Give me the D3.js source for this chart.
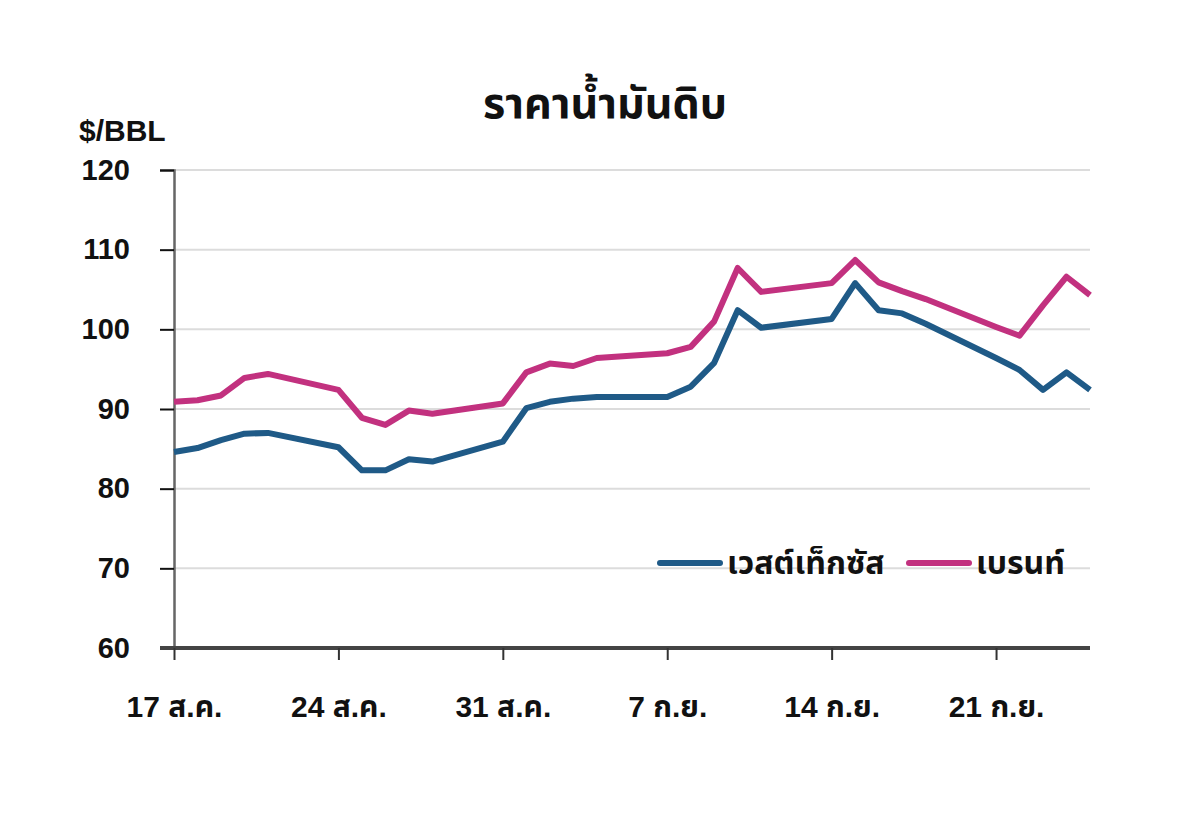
<!DOCTYPE html>
<html>
<head>
<meta charset="utf-8">
<script src="https://cdn.jsdelivr.net/npm/d3@7"></script>
<style>
  body { margin: 0; background: #ffffff; }
  text { font-family: "Liberation Sans", Arial, "Noto Sans Thai", sans-serif; font-weight: bold; fill: #111; }
</style>
</head>
<body>
<div id="chart"></div>
<script>
// trading days (weekends are skipped, so lines run straight across them)
const dates = ["2020-08-17","2020-08-18","2020-08-19","2020-08-20","2020-08-21",
  "2020-08-24","2020-08-25","2020-08-26","2020-08-27","2020-08-28",
  "2020-08-31","2020-09-01","2020-09-02","2020-09-03","2020-09-04",
  "2020-09-07","2020-09-08","2020-09-09","2020-09-10","2020-09-11",
  "2020-09-14","2020-09-15","2020-09-16","2020-09-17","2020-09-18",
  "2020-09-21","2020-09-22","2020-09-23","2020-09-24","2020-09-25"];

const wti = [84.6, 85.1, 86.1, 86.9, 87.0, 85.2, 82.3, 82.3, 83.7, 83.4,
  85.9, 90.1, 90.9, 91.3, 91.5, 91.5, 92.8, 95.8, 102.4, 100.2,
  101.3, 105.8, 102.4, 102.0, 100.7, 96.4, 94.9, 92.4, 94.6, 92.4];

const brent = [90.9, 91.1, 91.7, 93.9, 94.4, 92.4, 88.9, 88.0, 89.8, 89.4,
  90.7, 94.6, 95.7, 95.4, 96.4, 97.0, 97.8, 101.0, 107.7, 104.7,
  105.8, 108.7, 105.9, 104.8, 103.8, 100.3, 99.2, 103.0, 106.6, 104.3];

const seriesNames = ["เวสต์เท็กซัส", "เบรนท์"];
const seriesColors = ["#1f5a87", "#c2317f"];

const tickDates = ["2020-08-17","2020-08-24","2020-08-31","2020-09-07","2020-09-14","2020-09-21"];
const tickLabels = ["17 ส.ค.", "24 ส.ค.", "31 ส.ค.", "7 ก.ย.", "14 ก.ย.", "21 ก.ย."];
const yTicks = [60, 70, 80, 90, 100, 110, 120];

const W = 1200, H = 816;
const margin = {top: 170, right: 110, bottom: 168, left: 174};
const width = W - margin.left - margin.right;
const height = H - margin.top - margin.bottom;

const parse = d3.timeParse("%Y-%m-%d");

const svg = d3.select("#chart").append("svg")
    .attr("width", W)
    .attr("height", H);

const g = svg.append("g")
    .attr("transform", `translate(${margin.left},${margin.top})`);

const x = d3.scaleTime()
    .domain([parse(dates[0]), parse(dates[dates.length - 1])])
    .range([0, width]);

const y = d3.scaleLinear()
    .domain([60, 120])
    .range([height, 0]);

// gridlines
g.append("g")
    .selectAll("line")
    .data(yTicks.filter(d => d > 60))
    .enter().append("line")
    .attr("x1", 0)
    .attr("x2", width)
    .attr("y1", d => y(d))
    .attr("y2", d => y(d))
    .attr("stroke", "#dcdcdc")
    .attr("stroke-width", 2);

// y axis
const yAxis = g.append("g")
    .call(d3.axisLeft(y).tickValues(yTicks).tickSize(14).tickPadding(30));
yAxis.select(".domain").attr("stroke", "#666").attr("stroke-width", 2.5);
yAxis.selectAll(".tick line").attr("stroke", "#111").attr("stroke-width", 2);
yAxis.selectAll("text")
    .attr("fill", "#111")
    .style("font-size", "29px");

// x axis
const xAxis = g.append("g")
    .attr("transform", `translate(0,${height})`)
    .call(d3.axisBottom(x)
        .tickValues(tickDates.map(parse))
        .tickFormat((d, i) => tickLabels[i])
        .tickSize(12)
        .tickPadding(36));
xAxis.select(".domain").attr("stroke", "#444").attr("stroke-width", 4)
    .attr("d", `M-14,0H${width}`);
xAxis.selectAll(".tick line").attr("stroke", "#333").attr("stroke-width", 2);
xAxis.selectAll("text")
    .attr("fill", "#111")
    .style("font-size", "30px");

// lines
const line = d3.line()
    .x((d, i) => x(parse(dates[i])))
    .y(d => y(d));

[wti, brent].forEach((vals, k) => {
    g.append("path")
        .datum(vals)
        .attr("fill", "none")
        .attr("stroke", seriesColors[k])
        .attr("stroke-width", 6)
        .attr("stroke-linejoin", "round")
        .attr("d", line);
});

// title
svg.append("text")
    .attr("x", 605)
    .attr("y", 118)
    .attr("text-anchor", "middle")
    .style("font-size", "43px")
    .text("ราคาน้ำมันดิบ");

svg.append("text")
    .attr("x", 79)
    .attr("y", 141)
    .style("font-size", "30px")
    .text("$/BBL");

// legend
const legend = svg.append("g")
    .attr("transform", "translate(660,563)");

const legendX = [0, 249];
seriesNames.forEach((name, k) => {
    const item = legend.append("g").attr("transform", `translate(${legendX[k]},0)`);
    item.append("line")
        .attr("x1", 0).attr("x2", 60)
        .attr("stroke", seriesColors[k])
        .attr("stroke-width", 6)
        .attr("stroke-linecap", "round");
    item.append("text")
        .attr("x", 67)
        .attr("y", 11)
        .style("font-size", "32px")
        .text(name);
});
</script>
</body>
</html>
